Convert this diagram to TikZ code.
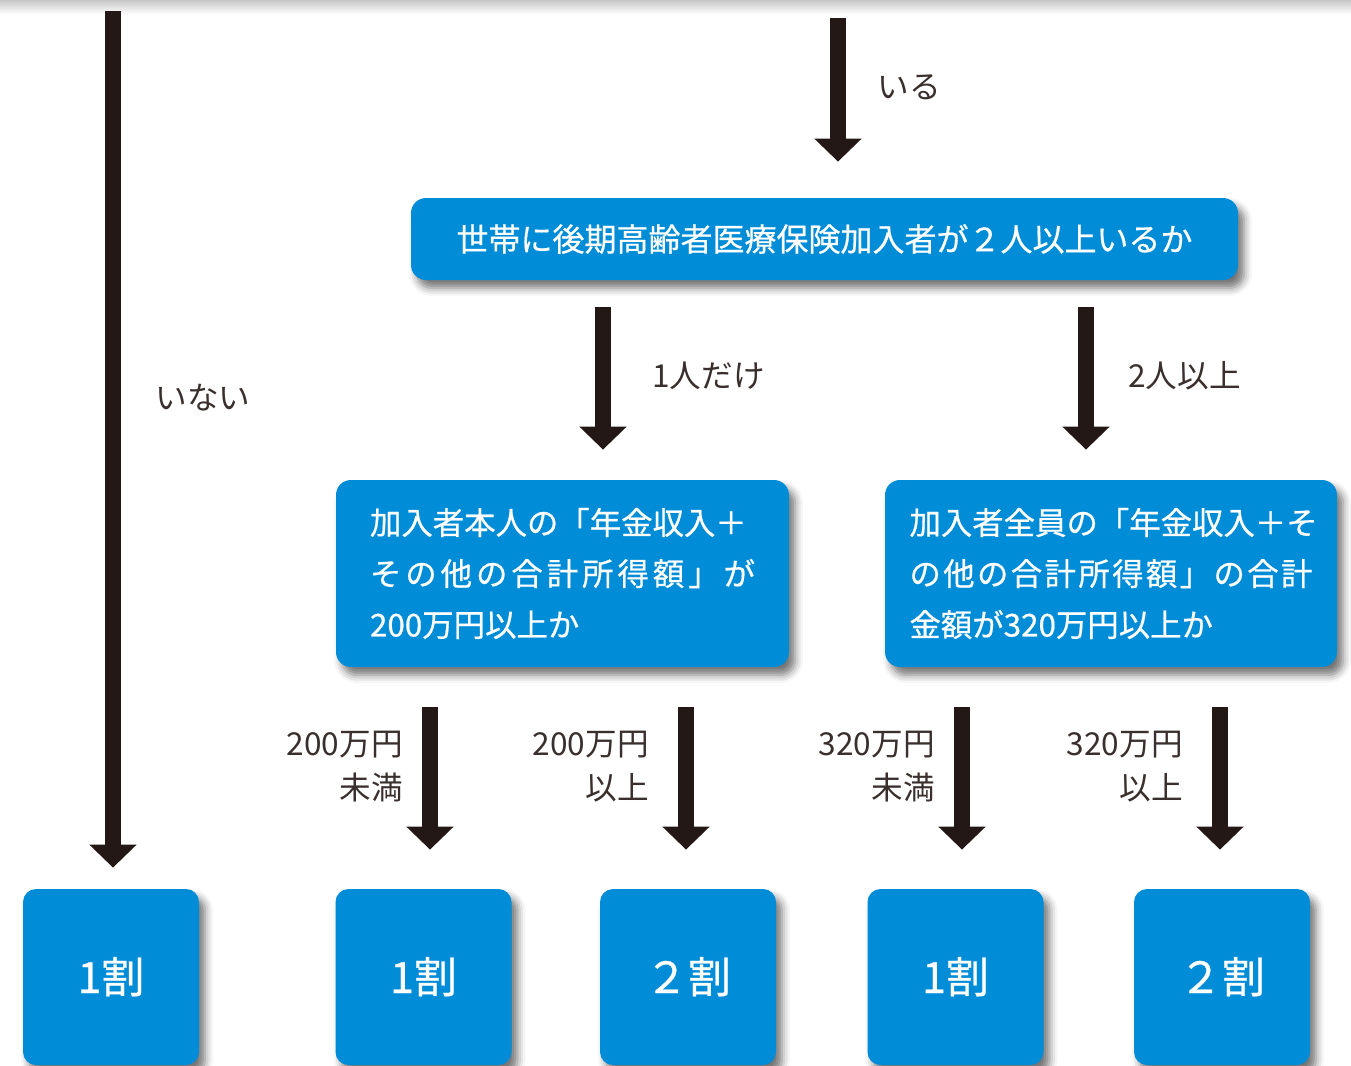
\documentclass[tikz,border=0pt]{standalone}
\usepackage{fontspec}
\usepackage{tikz}
\usetikzlibrary{arrows.meta,shadows.blur}
\newfontfamily\jpfont{Noto Sans CJK JP}
\newfontfamily\jpboxfont[FakeBold=0.6]{Noto Sans CJK JP}
\definecolor{boxblue}{HTML}{008CD6}
\definecolor{arrowink}{HTML}{231815}
\tikzset{
  flowbox/.style={fill=boxblue, text=white, inner sep=0pt, rounded corners=7.5pt,
    font=\jpboxfont\fontsize{15.7}{25.5}\selectfont,
    blur shadow={shadow xshift=3pt, shadow yshift=-4pt, shadow blur radius=4pt, shadow opacity=55}},
  ratebox/.style={flowbox, minimum width=88pt, minimum height=88pt, rounded corners=6.5pt,
    font=\jpboxfont\fontsize{21.5}{25}\selectfont},
  thickarrow/.style={draw=arrowink, line width=8pt, -{Triangle[width=23pt,length=11.5pt]}},
  armlabel/.style={font=\jpfont\fontsize{15.8}{22}\selectfont, text=arrowink!90, inner sep=0pt}
}
\begin{document}
\begin{tikzpicture}[x=0.5pt,y=-0.5pt]
\useasboundingbox (0,0) rectangle (1351,1066);
\shade[top color=black!22, bottom color=white] (0,0) rectangle (1351,14);

% question boxes
\node[flowbox, minimum width=413.5pt, minimum height=41pt, font=\jpboxfont\fontsize{16}{20}\selectfont] (b1) at (824.5,239)
  {世帯に後期高齢者医療保険加入者が２人以上いるか};
\node[flowbox, minimum width=226.5pt, minimum height=93.5pt, text width=192.5pt, align=left] (b2) at (562.5,573.5)
  {\makebox[192.5pt][s]{加入者本人の「年金収入＋}\\
   \makebox[192.5pt][s]{そ\hfill の\hfill 他\hfill の\hfill 合\hfill 計\hfill 所\hfill 得\hfill 額\hfill 」\hfill が}\\
   200万円以上か};
\node[flowbox, minimum width=226pt, minimum height=93.5pt, text width=201.5pt, align=left] (b3) at (1111,573.5)
  {\makebox[201.5pt][s]{加入者全員の「年金収入＋そ}\\
   \makebox[201.5pt][s]{の\hfill 他\hfill の\hfill 合\hfill 計\hfill 所\hfill 得\hfill 額\hfill 」\hfill の\hfill 合\hfill 計}\\
   金額が320万円以上か};

% results
\node[ratebox] (r1) at (111,977) {\raisebox{2pt}{1割}};
\node[ratebox] (r2) at (423.5,977) {\raisebox{2pt}{1割}};
\node[ratebox] (r3) at (688,977) {\raisebox{2pt}{２割}};
\node[ratebox] (r4) at (955.5,977) {\raisebox{2pt}{1割}};
\node[ratebox] (r5) at (1222,977) {\raisebox{2pt}{２割}};

% arrow columns
\coordinate (topL) at (113,11);
\coordinate (topM) at (838,18);
\coordinate (x2) at (603,0);
\coordinate (x3) at (1086,0);
\coordinate (x4) at (430,0);
\coordinate (x5) at (686,0);
\coordinate (x6) at (962,0);
\coordinate (x7) at (1220,0);

\draw[thickarrow, shorten >=10.5pt] (topL) -- (topL |- r1.north);
\draw[thickarrow, shorten >=18pt] (topM) -- (topM |- b1.north);
\draw[thickarrow, shorten <=13.5pt, shorten >=15pt] (b1.south -| x2) -- (b2.north -| x2);
\draw[thickarrow, shorten <=13.5pt, shorten >=15pt] (b1.south -| x3) -- (b3.north -| x3);
\draw[thickarrow, shorten <=20pt, shorten >=19.5pt] (b2.south -| x4) -- (r2.north -| x4);
\draw[thickarrow, shorten <=20pt, shorten >=19.5pt] (b2.south -| x5) -- (r3.north -| x5);
\draw[thickarrow, shorten <=20pt, shorten >=19.5pt] (b3.south -| x6) -- (r4.north -| x6);
\draw[thickarrow, shorten <=20pt, shorten >=19.5pt] (b3.south -| x7) -- (r5.north -| x7);

% labels
\node[armlabel, anchor=west] (lIru) at (877,87) {いる};
\node[armlabel, anchor=west] (lInai) at (155,398) {いない};
\node[armlabel, anchor=west] (lOne) at (652,376) {1人だけ};
\node[armlabel, anchor=west] (lTwo) at (1128,376) {2人以上};
\node[armlabel, anchor=east, align=right] (lA) at (403,767) {200万円\\未満};
\node[armlabel, anchor=east, align=right] (lB) at (649,767) {200万円\\以上};
\node[armlabel, anchor=east, align=right] (lC) at (935,767) {320万円\\未満};
\node[armlabel, anchor=east, align=right] (lD) at (1183,767) {320万円\\以上};
\end{tikzpicture}
\end{document}
